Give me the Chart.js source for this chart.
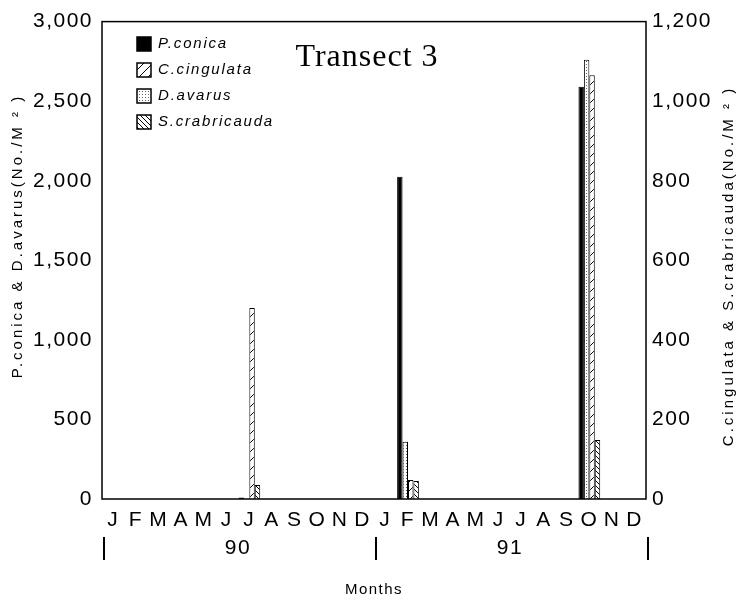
<!DOCTYPE html>
<html>
<head>
<meta charset="utf-8">
<title>Transect 3</title>
<script src="https://cdn.jsdelivr.net/npm/chart.js@4.4.0/dist/chart.umd.min.js"></script>
<style>
  html, body { margin: 0; padding: 0; background: #fff; }
  #wrap { width: 742px; height: 602px; }
</style>
</head>
<body>
<div id="wrap"><canvas id="chart" width="742" height="602"></canvas></div>
<script>
// months Jan 1990 .. Dec 1991
const months = ['J','F','M','A','M','J','J','A','S','O','N','D',
                'J','F','M','A','M','J','J','A','S','O','N','D'];
const yearLabels = ['90', '91'];

// left axis (No./M2)
const pConica      = [0,0,0,0,0,0,10,0,0,0,0,0, 0,2025,0,0,0,0,0,0,0,2590,0,0];
const dAvarus      = [0,0,0,0,0,0,0,0,0,0,0,0, 0,360,0,0,0,0,0,0,0,2760,0,0];
// right axis (No./M2)
const cCingulata   = [0,0,0,0,0,0,480,0,0,0,0,0, 0,48,0,0,0,0,0,0,0,1065,0,0];
const sCrabricauda = [0,0,0,0,0,0,35,0,0,0,0,0, 0,45,0,0,0,0,0,0,0,148,0,0];

const leftTicks  = [0, 500, 1000, 1500, 2000, 2500, 3000];
const rightTicks = [0, 200, 400, 600, 800, 1000, 1200];

const SANS = '"Liberation Sans", Arial, Helvetica, sans-serif';

function makePattern(size, draw) {
  const c = document.createElement('canvas');
  c.width = size; c.height = size;
  const g = c.getContext('2d');
  g.fillStyle = '#fff';
  g.fillRect(0, 0, size, size);
  g.strokeStyle = '#000';
  g.fillStyle = '#000';
  g.lineWidth = 1;
  draw(g, size);
  return c.getContext('2d').createPattern(c, 'repeat');
}

const slashFill = makePattern(9, (g, s) => {
  g.beginPath();
  g.moveTo(0, s); g.lineTo(s, 0);
  g.moveTo(-1, 1); g.lineTo(1, -1);
  g.moveTo(s - 1, s + 1); g.lineTo(s + 1, s - 1);
  g.stroke();
});
const backFill = makePattern(5, (g, s) => {
  g.beginPath();
  g.moveTo(0, 0); g.lineTo(s, s);
  g.moveTo(s - 1, -1); g.lineTo(s + 1, 1);
  g.moveTo(-1, s - 1); g.lineTo(1, s + 1);
  g.stroke();
});
const dotFill = makePattern(3, (g) => {
  g.fillStyle = '#666';
  g.fillRect(1, 1, 1, 1);
});

const fmt = v => v.toLocaleString('en-US');

const extras = {
  id: 'extras',
  beforeDraw(chart) {
    chart.ctx.letterSpacing = '1.5px';
  },
  afterDraw(chart) {
    const ctx = chart.ctx;
    const area = chart.chartArea;
    const x = chart.scales.x;
    ctx.save();

    // frame around the plot
    ctx.strokeStyle = '#000';
    ctx.lineWidth = 1.5;
    ctx.strokeRect(area.left, area.top, area.right - area.left, area.bottom - area.top);

    // year row with dividers
    ctx.fillStyle = '#000';
    ctx.font = '21px ' + SANS;
    ctx.letterSpacing = '1.5px';
    ctx.textAlign = 'center';
    ctx.textBaseline = 'middle';
    ctx.lineWidth = 2;
    [-0.5, 11.5, 23.5].forEach(v => {
      const px = x.getPixelForValue(v) + 2;
      ctx.beginPath();
      ctx.moveTo(px, 537); ctx.lineTo(px, 560);
      ctx.stroke();
    });
    yearLabels.forEach((t, i) => {
      ctx.fillText(t, x.getPixelForValue(i * 12 + 5.5), 548);
    });

    // y axis titles
    ctx.font = '15px ' + SANS;
    ctx.letterSpacing = '3px';
    ctx.save();
    ctx.translate(18, 236);
    ctx.rotate(-Math.PI / 2);
    ctx.fillText('P.conica & D.avarus(No./M \u00b2 )', 0, 0);
    ctx.restore();
    ctx.save();
    ctx.translate(729, 266);
    ctx.rotate(-Math.PI / 2);
    ctx.fillText('C.cingulata & S.crabricauda(No./M \u00b2 )', 0, 0);
    ctx.restore();

    // chart title inside the plot
    ctx.font = '32px "Liberation Serif", "Times New Roman", serif';
    ctx.letterSpacing = '1px';
    ctx.textBaseline = 'alphabetic';
    ctx.fillText('Transect 3', 367, 66);

    // legend inside the plot, in the reference order
    const order = ['P.conica', 'C.cingulata', 'D.avarus', 'S.crabricauda'];
    ctx.font = 'italic 15px ' + SANS;
    ctx.letterSpacing = '1.8px';
    ctx.textAlign = 'left';
    ctx.textBaseline = 'middle';
    ctx.lineWidth = 1.5;
    order.forEach((name, i) => {
      const ds = chart.data.datasets.find(d => d.label === name);
      const cy = 44 + i * 26;
      ctx.fillStyle = ds.backgroundColor;
      ctx.fillRect(137, cy - 7, 14, 14);
      ctx.strokeRect(137, cy - 7, 14, 14);
      ctx.fillStyle = '#000';
      ctx.fillText(name, 158, cy);
    });

    ctx.restore();
  }
};

new Chart(document.getElementById('chart'), {
  type: 'bar',
  data: {
    labels: months,
    datasets: [
      { label: 'P.conica', data: pConica, yAxisID: 'yL', backgroundColor: '#000' },
      { label: 'D.avarus', data: dAvarus, yAxisID: 'yL', backgroundColor: dotFill },
      { label: 'C.cingulata', data: cCingulata, yAxisID: 'yR', backgroundColor: slashFill },
      { label: 'S.crabricauda', data: sCrabricauda, yAxisID: 'yR', backgroundColor: backFill }
    ]
  },
  options: {
    responsive: false,
    animation: false,
    devicePixelRatio: 1,
    layout: { padding: { top: 20, left: 0, right: 0, bottom: 0 } },
    datasets: {
      bar: {
        borderColor: '#000',
        borderWidth: 1,
        borderSkipped: 'start',
        categoryPercentage: 0.96,
        barPercentage: 1.0
      }
    },
    plugins: {
      legend: { display: false },
      tooltip: { enabled: false },
      title: { display: false }
    },
    scales: {
      x: {
        type: 'category',
        position: 'bottom',
        offset: true,
        grid: { display: false, drawTicks: false },
        border: { display: false },
        ticks: {
          autoSkip: false,
          maxRotation: 0,
          padding: 9,
          color: '#000',
          font: { family: SANS, size: 21 }
        },
        title: {
          display: true,
          text: 'Months',
          color: '#000',
          font: { family: SANS, size: 15 },
          padding: { top: 0, bottom: 3 }
        },
        afterFit: s => { s.height = 103; }
      },
      yL: {
        type: 'linear',
        position: 'left',
        min: 0,
        max: 3000,
        grid: { display: false, drawTicks: false },
        border: { display: false },
        afterBuildTicks: s => { s.ticks = leftTicks.map(v => ({ value: v })); },
        ticks: {
          padding: 9,
          color: '#000',
          font: { family: SANS, size: 21 },
          callback: v => fmt(v)
        },
        afterFit: s => { s.width = 102; }
      },
      yR: {
        type: 'linear',
        position: 'right',
        min: 0,
        max: 1200,
        grid: { display: false, drawTicks: false },
        border: { display: false },
        afterBuildTicks: s => { s.ticks = rightTicks.map(v => ({ value: v })); },
        ticks: {
          padding: 6,
          color: '#000',
          font: { family: SANS, size: 21 },
          callback: v => fmt(v)
        },
        afterFit: s => { s.width = 96; }
      }
    }
  },
  plugins: [extras]
});
</script>
</body>
</html>
